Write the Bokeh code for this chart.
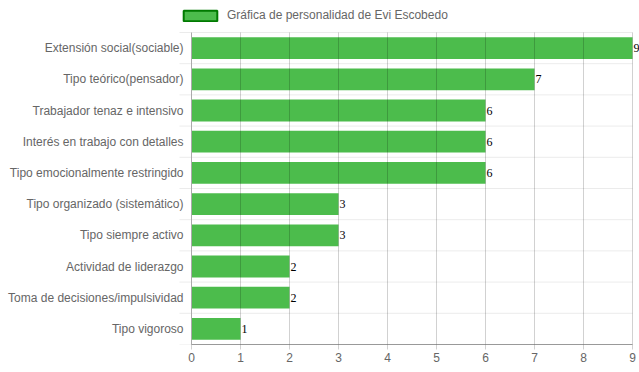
from bokeh.plotting import figure
from bokeh.models import (ColumnDataSource, Range1d, FixedTicker, LabelSet,
                          Legend, LegendItem)
from bokeh.core.properties import value
from bokeh.embed import file_html
from bokeh.resources import INLINE

categories = [
    "Extensión social(sociable)",
    "Tipo teórico(pensador)",
    "Trabajador tenaz e intensivo",
    "Interés en trabajo con detalles",
    "Tipo emocionalmente restringido",
    "Tipo organizado (sistemático)",
    "Tipo siempre activo",
    "Actividad de liderazgo",
    "Toma de decisiones/impulsividad",
    "Tipo vigoroso",
]
values = [9, 7, 6, 6, 6, 3, 3, 2, 2, 1]
x_ticks = [0, 1, 2, 3, 4, 5, 6, 7, 8, 9]
series_name = "Gráfica de personalidad de Evi Escobedo"

FONT = "Liberation Sans"
GREY = "#666666"

# layout (pixels)
W, H = 639, 372
BOTTOM = 28
plot_left = 191          # pixel of value 0
axis_w = 441             # pixels from 0 to last tick
cats_h = 312             # pixels taken by the categories
x_max = max(x_ticks)
ppu = axis_w / x_max     # pixels per unit
x_start = -plot_left / ppu
x_end = (W - plot_left) / ppu
n = len(categories)
frame_h = H - BOTTOM
y_end = n * frame_h / cats_h
tick_len = 12 / ppu

ypos = [n - i - 0.5 for i in range(n)]
src = ColumnDataSource(dict(y=ypos, val=values, cat=categories,
                            lab=[str(v) for v in values], zero=[0] * n))

p = figure(width=W, height=H, output_backend="svg", toolbar_location=None,
           x_range=Range1d(x_start, x_end), y_range=Range1d(0, y_end),
           min_border_left=0, min_border_right=0, min_border_top=0, min_border_bottom=BOTTOM)
p.outline_line_color = None
p.xgrid.visible = False
p.ygrid.visible = False
p.yaxis.visible = False

# horizontal grid lines at category boundaries (with their small outer ticks)
p.segment(x0=[-tick_len] * (n + 1), x1=[x_max] * (n + 1), y0=list(range(n + 1)), y1=list(range(n + 1)),
          line_color="rgba(0,0,0,0.08)", line_width=1)

bars = p.hbar(y="y", right="val", left=0, height=0.7, source=src,
              fill_color="#00a000", fill_alpha=0.7, line_color=None)

# vertical grid lines (drawn over the bars, as in the reference)
p.segment(x0=x_ticks[1:], x1=x_ticks[1:], y0=[0] * (len(x_ticks) - 1), y1=[n] * (len(x_ticks) - 1),
          line_color="rgba(0,0,0,0.18)", line_width=1)
# left axis line
p.segment(x0=[0], x1=[0], y0=[0], y1=[n], line_color="#aaaaaa", line_width=1)

# category labels
p.text(x="zero", y="y", text="cat", source=src, x_offset=-8,
       text_align="right", text_baseline="middle",
       text_font=value(FONT), text_font_size="12px", text_color=GREY)

# invisible twin of the bars, only used for the legend swatch (with its border)
swatch = p.hbar(y="y", right="val", left=0, height=0.7, source=src,
                fill_color="#00a000", fill_alpha=0.7, line_color="#007a00", line_width=2,
                visible=False)

p.xaxis.ticker = FixedTicker(ticks=x_ticks)
p.xaxis.bounds = (0, x_max)
p.xaxis.axis_line_color = "#999999"
p.xaxis.major_tick_line_color = "rgba(0,0,0,0.18)"
p.xaxis.major_tick_out = 5
p.xaxis.major_tick_in = 0
p.xaxis.minor_tick_line_color = None
p.xaxis.major_label_standoff = 3
p.xaxis.major_label_text_font = FONT
p.xaxis.major_label_text_font_size = "12px"
p.xaxis.major_label_text_color = GREY

labels = LabelSet(x="val", y="y", text="lab", source=src, x_offset=1,
                  text_baseline="middle", text_align="left",
                  text_font="Liberation Serif", text_font_size="12px", text_color="#000000")
p.add_layout(labels)

legend = Legend(items=[LegendItem(label=series_name, renderers=[swatch])],
                location=(179, frame_h - 22), orientation="horizontal",
                glyph_width=42, glyph_height=13, label_standoff=6,
                padding=0, margin=0, spacing=0,
                border_line_color=None, background_fill_alpha=0,
                label_text_font=FONT, label_text_font_size="12px", label_text_color=GREY,
                label_height=13)
p.add_layout(legend, "center")

open("out.html", "w").write(file_html(p, INLINE))
